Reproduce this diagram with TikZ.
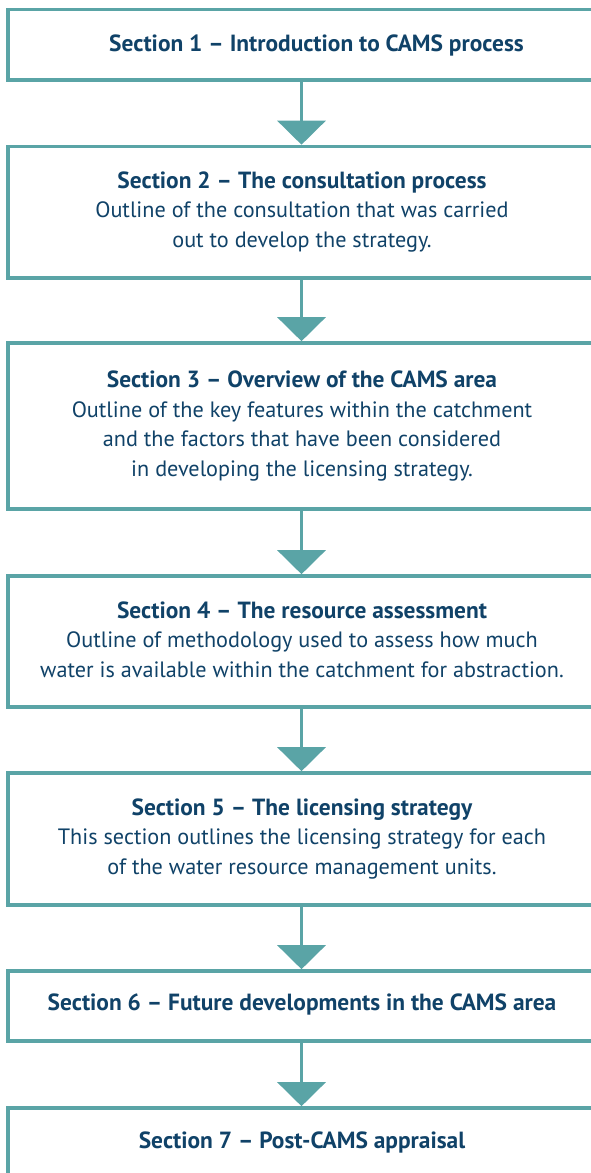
\documentclass[tikz,border=0pt]{standalone}
\usepackage{fontspec}
\setmainfont{PT Sans}
\usetikzlibrary{arrows.meta}
\definecolor{teal}{RGB}{90,164,166}
\definecolor{navy}{RGB}{16,66,104}
\newcommand{\headline}[1]{{\fontsize{23.4}{29.5}\selectfont\bfseries #1}}
\tikzset{
  stagebox/.style={draw=teal, line width=3.6pt, fill=white, rectangle,
    minimum width=587pt, inner sep=0pt},
  flow/.style={draw=teal, line width=3.4pt,
    -{Triangle[width=48pt,length=24pt,fill=teal]}},
  label/.style={text=navy, align=center, anchor=base, inner sep=0pt,
    font=\fontsize{22.2}{29.5}\selectfont},
}
\begin{document}
\begin{tikzpicture}[x=1pt,y=1pt]
  \useasboundingbox (0,0) rectangle (591,-1173);
  \clip (0,0) rectangle (591,-1173);
  % stage boxes: left edge at 8, right edge past the page
  \node[stagebox, minimum height=70.5pt] (b1) at (301.5,-44.75) {};
  \node[stagebox, minimum height=131.5pt] (b2) at (301.5,-212.25) {};
  \node[stagebox, minimum height=166pt] (b3) at (301.5,-426) {};
  \node[stagebox, minimum height=131pt] (b4) at (301.5,-641.5) {};
  \node[stagebox, minimum height=132pt] (b5) at (301.5,-839) {};
  \node[stagebox, minimum height=70pt] (b6) at (301.5,-1006) {};
  \node[stagebox, minimum height=92pt] (b7) at (301.5,-1154) {};
  % connectors
  \draw[flow] (b1.south) -- (b2.north);
  \draw[flow] (b2.south) -- (b3.north);
  \draw[flow] (b3.south) -- (b4.north);
  \draw[flow] (b4.south) -- (b5.north);
  \draw[flow] (b5.south) -- (b6.north);
  \draw[flow] (b6.south) -- (b7.north);
  % texts (multi-line labels are placed by the baseline of their last line)
  \node[label] (t1) at (316.5,-51) {\headline{Section 1 – Introduction to CAMS process}};
  \node[label] (t2) at (302,-247) {\headline{Section 2 – The consultation process}\\
    Outline of the consultation that was carried\\
    out to develop the strategy.};
  \node[label] (t3) at (302,-476) {\headline{Section 3 – Overview of the CAMS area}\\
    Outline of the key features within the catchment\\
    and the factors that have been considered\\
    in developing the licensing strategy.};
  \node[label] (t4) at (302,-677) {\headline{Section 4 – The resource assessment}\\
    Outline of methodology used to assess how much\\
    water is available within the catchment for abstraction.};
  \node[label] (t5) at (302,-874) {\headline{Section 5 – The licensing strategy}\\
    This section outlines the licensing strategy for each\\
    of the water resource management units.};
  \node[label] (t6) at (302,-1010) {\headline{Section 6 – Future developments in the CAMS area}};
  \node[label] (t7) at (302,-1148) {\headline{Section 7 – Post-CAMS appraisal}};
\end{tikzpicture}
\end{document}
